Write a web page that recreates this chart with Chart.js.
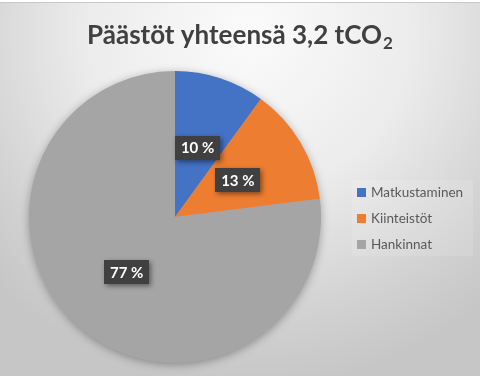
<!DOCTYPE html>
<html>
<head>
<meta charset="utf-8">
<script src="https://cdn.jsdelivr.net/npm/chart.js@4"></script>
<style>
  html, body { margin: 0; padding: 0; }
  #wrap {
    position: relative;
    width: 480px;
    height: 376px;
    background: radial-gradient(ellipse 75% 95% at 52% 8%, #fbfbfb 0%, #ececec 45%, #d2d2d2 80%, #c6c6c6 100%);
    box-sizing: border-box;
    border-top: 2px solid #ffffff;
  }
  #wrap::before {
    content: '';
    position: absolute;
    left: 0; right: 0; top: 0;
    height: 1px;
    background: #c8c8c8;
  }
</style>
</head>
<body>
<div id="wrap"><canvas id="pieTotal"></canvas></div>
<script>
const categories = ['Matkustaminen', 'Kiinteistöt', 'Hankinnat'];
const shares = [10, 13, 77];
const sliceColors = ['#4472C4', '#ED7D31', '#A5A5A5'];
const titleMain = 'Päästöt yhteensä 3,2 tCO';
const titleSub = '2';

const FONT = 'Lato, "Open Sans", sans-serif';

// tausta-varjo piirakan alle
const pieShadow = {
  id: 'pieShadow',
  beforeDatasetsDraw(chart) {
    const arc = chart.getDatasetMeta(0).data[0];
    if (!arc) return;
    const ctx = chart.ctx;
    ctx.save();
    ctx.shadowColor = 'rgba(0,0,0,0.35)';
    ctx.shadowBlur = 10;
    ctx.shadowOffsetY = 2;
    ctx.fillStyle = '#a5a5a5';
    ctx.beginPath();
    ctx.arc(arc.x, arc.y, arc.outerRadius - 0.5, 0, Math.PI * 2);
    ctx.fill();
    ctx.restore();
  }
};

// otsikko alaindeksillä
const titlePlugin = {
  id: 'titleSub',
  afterDraw(chart) {
    const ctx = chart.ctx;
    ctx.save();
    ctx.fillStyle = '#404040';
    ctx.textBaseline = 'alphabetic';
    ctx.font = 'bold 26px ' + FONT;
    const w1 = ctx.measureText(titleMain).width;
    ctx.font = 'bold 17px ' + FONT;
    const w2 = ctx.measureText(titleSub).width;
    let x = 240 - (w1 + w2 + 1) / 2;
    ctx.font = 'bold 26px ' + FONT;
    ctx.fillText(titleMain, x, 42);
    ctx.font = 'bold 17px ' + FONT;
    ctx.fillText(titleSub, x + w1 + 1, 47);
    ctx.restore();
  }
};

// prosenttilaatikot
const boxLabels = {
  id: 'boxLabels',
  afterDatasetsDraw(chart) {
    const ctx = chart.ctx;
    const meta = chart.getDatasetMeta(0);
    ctx.save();
    ctx.font = 'bold 15px ' + FONT;
    ctx.textAlign = 'center';
    ctx.textBaseline = 'middle';
    meta.data.forEach((arc, i) => {
      const pos = arc.tooltipPosition();
      const txt = shares[i] + ' %';
      const w = ctx.measureText(txt).width + 12;
      const h = 24;
      ctx.save();
      ctx.shadowColor = 'rgba(0,0,0,0.45)';
      ctx.shadowBlur = 5;
      ctx.shadowOffsetX = 2;
      ctx.shadowOffsetY = 2;
      ctx.fillStyle = '#404040';
      ctx.fillRect(Math.round(pos.x - w / 2), Math.round(pos.y - h / 2), Math.round(w), h);
      ctx.restore();
      ctx.fillStyle = '#ffffff';
      ctx.fillText(txt, pos.x, pos.y + 1);
    });
    ctx.restore();
  }
};

// selite oikealla
const sideLegend = {
  id: 'sideLegend',
  afterDraw(chart) {
    const ctx = chart.ctx;
    ctx.save();
    ctx.fillStyle = 'rgba(255,255,255,0.12)';
    ctx.fillRect(352, 178, 121, 76);
    ctx.font = '13.5px ' + FONT;
    ctx.textBaseline = 'middle';
    categories.forEach((c, i) => {
      const y = 191 + i * 26;
      ctx.fillStyle = sliceColors[i];
      ctx.fillRect(357, y - 5, 9, 9);
      ctx.fillStyle = '#595959';
      ctx.fillText(c, 371, y);
    });
    ctx.restore();
  }
};

new Chart(document.getElementById('pieTotal'), {
  type: 'pie',
  data: {
    labels: categories,
    datasets: [{
      data: shares,
      backgroundColor: sliceColors,
      borderWidth: 0
    }]
  },
  options: {
    responsive: true,
    maintainAspectRatio: false,
    animation: false,
    layout: {
      padding: { top: 68, bottom: 12, left: 29, right: 159 }
    },
    plugins: {
      legend: { display: false },
      title: { display: false },
      tooltip: { enabled: false }
    }
  },
  plugins: [pieShadow, boxLabels, titlePlugin, sideLegend]
});
</script>
</body>
</html>
